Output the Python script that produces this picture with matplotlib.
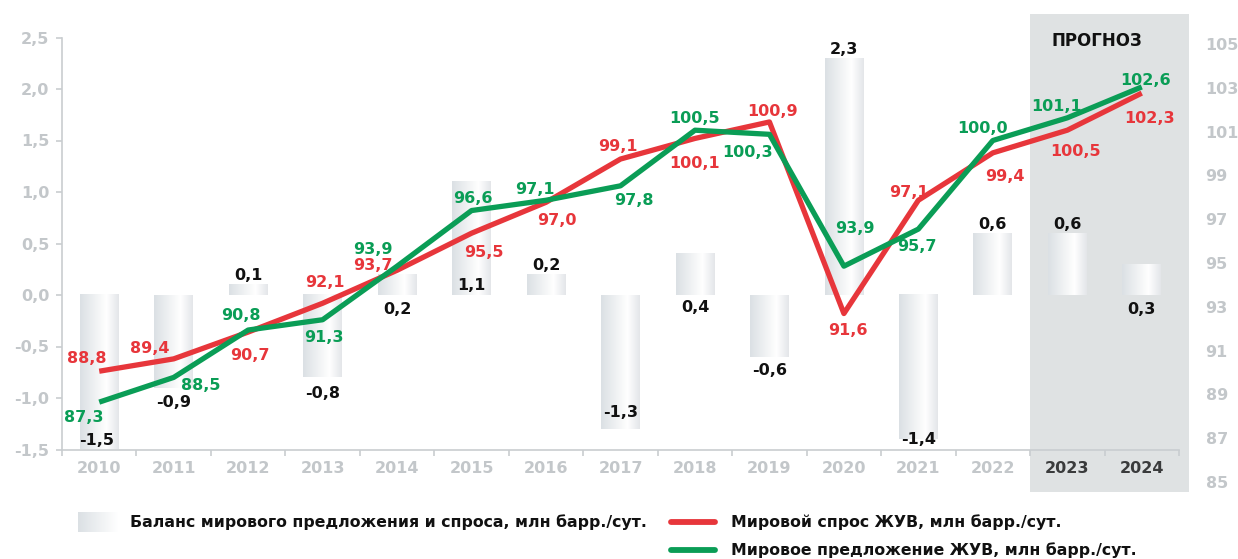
import numpy as np
import matplotlib
matplotlib.use("Agg")
import matplotlib.pyplot as plt
from matplotlib.patches import Rectangle
from matplotlib.lines import Line2D
from matplotlib.colors import LinearSegmentedColormap

# ---- data -------------------------------------------------------------
years = ["2010", "2011", "2012", "2013", "2014", "2015", "2016", "2017",
         "2018", "2019", "2020", "2021", "2022", "2023", "2024"]
forecast_years = ["2023", "2024"]

# supply/demand balance, mln bbl/day (left axis)
balance = [-1.5, -0.9, 0.1, -0.8, 0.2, 1.1, 0.2, -1.3, 0.4, -0.6,
           2.3, -1.4, 0.6, 0.6, 0.3]
# world liquids demand, mln bbl/day (right axis)
demand = [88.8, 89.4, 90.7, 92.1, 93.7, 95.5, 97.0, 99.1, 100.1, 100.9,
          91.6, 97.1, 99.4, 100.5, 102.3]
# world liquids supply, mln bbl/day (right axis)
supply = [87.3, 88.5, 90.8, 91.3, 93.9, 96.6, 97.1, 97.8, 100.5, 100.3,
          93.9, 95.7, 100.0, 101.1, 102.6]

left_ticks = [-1.5, -1.0, -0.5, 0.0, 0.5, 1.0, 1.5, 2.0, 2.5]
right_ticks = [85, 87, 89, 91, 93, 95, 97, 99, 101, 103, 105]

legend_balance = "Баланс мирового предложения и спроса, млн барр./сут."
legend_demand = "Мировой спрос ЖУВ, млн барр./сут."
legend_supply = "Мировое предложение ЖУВ, млн барр./сут."
forecast_title = "ПРОГНОЗ"

# ---- label placement (pixel offsets from the mark) ---------------------
bal_dx = [-3, 0, 0, 0, 0, 0, 0, 0, 0, 0, 0, 0, 0, 0, 0]
bal_dy = [9, -15, 9, -16, -35, -104, 9, 16, -54, -14, 9, 0, 9, 9, -45]
dem_off = [(-12, 13), (-24, 10), (2, -23), (2, 21), (-24, 5), (12, -19),
           (11, -18), (-3, 13), (0, -25), (3, 10), (4, -17), (-9, 8),
           (12, -24), (8, -21), (8, -25)]
sup_off = [(-15, -15), (27, -8), (-7, 15), (1, -18), (-24, 17), (1, 12),
           (-11, 11), (13, -15), (0, 12), (-22, -18), (11, 38), (-1, -17),
           (-10, 12), (-11, 11), (4, 6)]

# ---- style --------------------------------------------------------------
RED = "#e7363b"
GREEN = "#0a9d56"
AXIS_GRAY = "#c9cdd0"
TICK_GRAY = "#c3c7ca"
FORECAST_BG = "#dfe2e3"
FS = 11.5
LEG_FS = 11.3

plt.rcParams["font.family"] = ["DejaVu Sans"]
plt.rcParams["font.weight"] = "bold"

W, H = 1238, 559
fig = plt.figure(figsize=(W / 100, H / 100), dpi=100)


def fx(px):
    return px / W


def fy(py):
    return 1 - py / H


def fmt(v):
    return f"{v:.1f}".replace(".", ",")


ax_top, ax_bot = 37.5, 449.5
ax = fig.add_axes([fx(62), fy(ax_bot), fx(1179) - fx(62), (ax_bot - ax_top) / H])
ax.patch.set_alpha(0)

x = np.arange(len(years))

# forecast band behind everything
band_lo = (ax_bot - 492) / (ax_bot - ax_top)
band_hi = (ax_bot - 14) / (ax_bot - ax_top)
first_fc = years.index(forecast_years[0])
ax.add_patch(Rectangle((first_fc - 0.5, band_lo), (1190 - 1030.5) / 74.5,
                       band_hi - band_lo, transform=ax.get_xaxis_transform(),
                       facecolor=FORECAST_BG, edgecolor="none", zorder=0,
                       clip_on=False))

# balance bars with a horizontal silver gradient
bar_cmap = LinearSegmentedColormap.from_list(
    "silver", [(0, "#dbe0e4"), (0.68, "#ffffff"), (1, "#e3e6e9")])
grad = np.linspace(0, 1, 256).reshape(1, -1)
bw = 0.52
for xi, b in zip(x, balance):
    ax.imshow(grad, cmap=bar_cmap, aspect="auto", interpolation="bilinear",
              extent=(xi - bw / 2, xi + bw / 2, min(0, b), max(0, b)), zorder=1)

for xi, b, dx, dy in zip(x, balance, bal_dx, bal_dy):
    ax.annotate(fmt(b), (xi, b), xytext=(dx, dy), textcoords="offset pixels",
                ha="center", va="center", fontsize=FS, fontweight="bold",
                color="#111111", zorder=5)

ax.set_xlim(-0.5, len(years) - 0.5)
ax.set_ylim(left_ticks[0], left_ticks[-1])

# axes decoration
for side in ("top", "right"):
    ax.spines[side].set_visible(False)
for side in ("left", "bottom"):
    ax.spines[side].set_color(AXIS_GRAY)
    ax.spines[side].set_linewidth(1.2)

ax.set_xticks(x)
ax.set_xticklabels(years)
ax.set_xticks(np.arange(-0.5, len(years), 1), minor=True)
ax.tick_params(axis="x", which="major", length=0, pad=8, labelsize=FS,
               labelcolor=TICK_GRAY)
ax.tick_params(axis="x", which="minor", length=4, width=1.2, color=AXIS_GRAY)
for lbl in ax.get_xticklabels():
    lbl.set_fontweight("bold")
    if lbl.get_text() in forecast_years:
        lbl.set_color("#3a3b3c")

ax.set_yticks(left_ticks)
ax.set_yticklabels([fmt(t) for t in left_ticks])
ax.tick_params(axis="y", length=4, width=1.2, color=AXIS_GRAY, pad=5,
               labelsize=FS, labelcolor=TICK_GRAY)
for lbl in ax.get_yticklabels():
    lbl.set_fontweight("bold")

# demand / supply lines on the secondary scale
ax2 = ax.twinx()
ax2.set_ylim(right_ticks[0], right_ticks[-1])
ax2.set_axis_off()
ax2.plot(x, demand, color=RED, lw=3.8, solid_capstyle="butt", zorder=3)
ax2.plot(x, supply, color=GREEN, lw=3.8, solid_capstyle="butt", zorder=4)

for xi, v, (dx, dy) in zip(x, demand, dem_off):
    ax2.annotate(fmt(v), (xi, v), xytext=(dx, dy), textcoords="offset pixels",
                 ha="center", va="center", fontsize=FS, fontweight="bold",
                 color=RED, zorder=6)
for xi, v, (dx, dy) in zip(x, supply, sup_off):
    ax2.annotate(fmt(v), (xi, v), xytext=(dx, dy), textcoords="offset pixels",
                 ha="center", va="center", fontsize=FS, fontweight="bold",
                 color=GREEN, zorder=6)

# right-hand scale labels
ax3 = fig.add_axes([fx(1199), fy(482), 1 / W, (482 - 44) / H])
ax3.patch.set_alpha(0)
for s in ax3.spines.values():
    s.set_visible(False)
ax3.set_xticks([])
ax3.set_ylim(right_ticks[0], right_ticks[-1])
ax3.yaxis.tick_right()
ax3.set_yticks(right_ticks)
ax3.set_yticklabels([str(t) for t in right_ticks])
ax3.tick_params(axis="y", length=0, pad=4, labelsize=FS, labelcolor=TICK_GRAY)
for lbl in ax3.get_yticklabels():
    lbl.set_fontweight("bold")

fig.text(fx(1097), fy(41), forecast_title, ha="center", va="center",
         fontsize=12, fontweight="bold", color="#111111")

# legend
sw = fig.add_axes([fx(78), fy(532), fx(118) - fx(78), 20 / H])
sw.imshow(grad, cmap=LinearSegmentedColormap.from_list(
    "sw", ["#dbe0e4", "#ffffff"]), aspect="auto")
sw.set_axis_off()
fig.text(fx(130), fy(522), legend_balance, ha="left", va="center",
         fontsize=LEG_FS, fontweight="bold", color="#111111")
fig.add_artist(Line2D([fx(671), fx(715)], [fy(522), fy(522)],
                      transform=fig.transFigure, color=RED, lw=4.2,
                      solid_capstyle="round"))
fig.text(fx(731), fy(522), legend_demand, ha="left", va="center",
         fontsize=LEG_FS, fontweight="bold", color="#111111")
fig.add_artist(Line2D([fx(671), fx(715)], [fy(550), fy(550)],
                      transform=fig.transFigure, color=GREEN, lw=4.2,
                      solid_capstyle="round"))
fig.text(fx(731), fy(550), legend_supply, ha="left", va="center",
         fontsize=LEG_FS, fontweight="bold", color="#111111")

fig.savefig("out.png", dpi=100, facecolor="white")
